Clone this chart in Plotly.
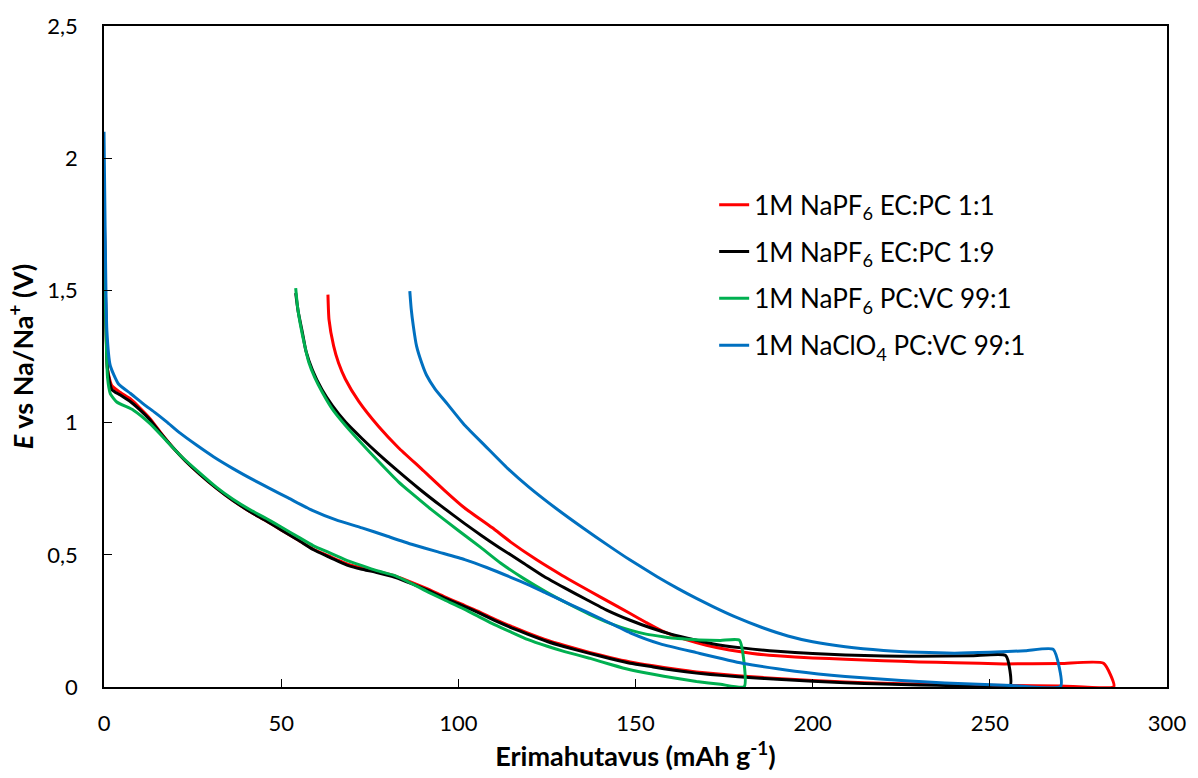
import plotly.graph_objects as go

# Galvanostatic sodiation / desodiation curves: capacity (mAh/g) vs potential (V).
# Every cell is drawn as one path: discharge branch (capacity rising to its end),
# then the charge branch running back to the left up to 1.5 V.

# 1M NaPF6 EC:PC 1:1
red_dis_x = [0, 0.4, 1.0, 2.2, 4.5, 7.4, 10, 13, 16, 19.5, 23, 27, 31.7, 36.4, 41, 45.7, 50,
             55, 59, 63.4, 66, 69, 72.5, 77, 82.1, 87, 91.5, 96, 100.8, 105.5, 110.2, 115,
             119.5, 125.1, 130, 137, 143, 148.5, 155, 161, 167.2, 175, 183, 190, 200, 209.2,
             220, 230, 240, 255, 270, 285]
red_dis_y = [1.88, 1.5, 1.2, 1.14, 1.115, 1.09, 1.057, 1.015, 0.962, 0.905, 0.855, 0.805,
             0.752, 0.705, 0.665, 0.629, 0.594, 0.554, 0.522, 0.496, 0.48, 0.464, 0.451, 0.438,
             0.42, 0.395, 0.37, 0.342, 0.314, 0.287, 0.257, 0.229, 0.205, 0.177, 0.157, 0.131,
             0.111, 0.095, 0.08, 0.068, 0.057, 0.047, 0.039, 0.032, 0.025, 0.019, 0.014,
             0.011, 0.008, 0.006, 0.004, 0.002]
red_chg_x = [282.1, 270, 254.1, 240, 230, 220, 209.2, 200, 190, 183, 176.5, 170, 164, 157.8,
             153, 148.5, 140, 134, 129.3, 122, 114.8, 109.5, 101.8, 96, 89.6, 83.1, 77.5,
             71.9, 68.1, 66.2, 64.8, 63.5, 63.2]
red_chg_y = [0.09, 0.089, 0.0874, 0.092, 0.095, 0.099, 0.105, 0.11, 0.118, 0.127, 0.14,
             0.158, 0.18, 0.21, 0.244, 0.278, 0.341, 0.386, 0.422, 0.482, 0.548, 0.603, 0.677,
             0.745, 0.825, 0.905, 0.985, 1.08, 1.165, 1.225, 1.29, 1.39, 1.484]

# 1M NaPF6 EC:PC 1:9
blk_dis_x = [0, 0.4, 1.0, 2.2, 4.5, 7.4, 10, 13, 16, 19.5, 23, 27, 31.7, 36.4, 41, 45.7, 50,
             55, 59, 63.4, 66, 69, 72.5, 77, 82.1, 87, 91.5, 96, 100.8, 105.5, 110.2, 115,
             119.5, 125.1, 130, 137, 143, 148.5, 155, 161, 167.2, 175, 183, 190, 200, 209.2,
             220, 230, 240, 255.7]
blk_dis_y = [1.85, 1.5, 1.2, 1.125, 1.105, 1.08, 1.05, 1.01, 0.96, 0.905, 0.855, 0.805, 0.752,
             0.705, 0.665, 0.629, 0.594, 0.554, 0.52, 0.492, 0.476, 0.459, 0.446, 0.433, 0.415,
             0.39, 0.365, 0.337, 0.31, 0.282, 0.252, 0.224, 0.2, 0.172, 0.152, 0.127,
             0.107, 0.09, 0.076, 0.063, 0.0525, 0.043, 0.035, 0.029, 0.022, 0.016, 0.011,
             0.008, 0.005, 0.003]
blk_chg_x = [254.5, 245, 230, 220, 209.2, 200, 190, 180, 172, 167.2, 160, 154, 148.5, 142,
             136, 130, 124.2, 118, 111.5, 106.4, 101.8, 95.2, 89, 82.5, 77.5, 72.8, 68.1,
             64.4, 61.5, 58.8, 57, 56, 54.8, 54.1]
blk_chg_y = [0.119, 0.118, 0.116, 0.117, 0.121, 0.127, 0.135, 0.148, 0.163, 0.177, 0.2,
             0.225, 0.2525, 0.29, 0.332, 0.375, 0.418, 0.472, 0.528, 0.574, 0.618, 0.684,
             0.749, 0.822, 0.881, 0.94, 1.003, 1.065, 1.125, 1.20, 1.27, 1.34, 1.42, 1.49]

# 1M NaPF6 PC:VC 99:1
grn_dis_x = [0, 0.4, 1.0, 1.8, 3.6, 8.3, 13, 17.7, 22, 27, 31.7, 36.4, 41, 45.7, 50, 55, 59,
             63.4, 68, 72.8, 77, 82.1, 87, 91.5, 96, 100.8, 105.5, 110.2, 115, 119.5, 125.1,
             130, 137, 143, 148.5, 155, 161, 167.2, 174, 180.7]
grn_dis_y = [1.8, 1.45, 1.17, 1.109, 1.078, 1.047, 0.996, 0.93, 0.87, 0.81, 0.756, 0.71,
             0.672, 0.638, 0.605, 0.566, 0.535, 0.509, 0.482, 0.459, 0.44, 0.421, 0.39, 0.359,
             0.33, 0.3, 0.268, 0.236, 0.207, 0.18, 0.154, 0.134, 0.109, 0.085, 0.065,
             0.048, 0.034, 0.021, 0.01, 0.002]
grn_chg_x = [179.3, 174, 168, 162, 157.8, 153, 148.5, 143, 137, 131, 125.1, 118.6, 112,
             106.4, 100, 92.4, 86.8, 83.1, 77.5, 72.8, 68.1, 64.5, 61.6, 59.5, 57.8, 56.5,
             55.5, 54.6, 54.1]
grn_chg_y = [0.177, 0.176, 0.178, 0.183, 0.19, 0.20, 0.215, 0.24, 0.275, 0.315, 0.357,
             0.409, 0.468, 0.527, 0.592, 0.671, 0.733, 0.776, 0.853, 0.92, 0.99, 1.05, 1.115,
             1.17, 1.228, 1.30, 1.365, 1.44, 1.509]

# 1M NaClO4 PC:VC 99:1
blu_dis_x = [0, 0.3, 0.8, 1.77, 4.1, 7.5, 11.1, 14.5, 17.7, 21.5, 26.1, 31, 36.3, 41.5,
             46.6, 52, 58.8, 65.5, 72.8, 80, 86.8, 94, 101.8, 108, 114.8, 120, 125.1, 132,
             140, 148.5, 157, 167.2, 180.2, 195, 209.2, 225, 237.3, 256, 270]
blu_dis_y = [2.1, 1.75, 1.35, 1.215, 1.146, 1.11, 1.071, 1.037, 1.003, 0.96, 0.915, 0.87,
             0.827, 0.788, 0.752, 0.715, 0.668, 0.632, 0.602, 0.57, 0.54, 0.512, 0.482,
             0.452, 0.415, 0.385, 0.353, 0.31, 0.26, 0.205, 0.163, 0.13, 0.09, 0.06, 0.04,
             0.025, 0.015, 0.006, 0.003]
blu_chg_x = [267.9, 260, 250, 240, 230, 220, 209.2, 200, 193, 185.9, 178, 172, 167.2, 162,
             156, 148.5, 142.9, 135, 127.9, 120, 113.9, 107.5, 101.8, 97, 93.4, 91, 89.6,
             88.2, 87.3, 86.7, 86.3]
blu_chg_y = [0.1425, 0.137, 0.131, 0.128, 0.131, 0.138, 0.152, 0.171, 0.193, 0.224, 0.266,
             0.303, 0.335, 0.372, 0.418, 0.48, 0.53, 0.603, 0.672, 0.755, 0.827, 0.913, 0.99,
             1.069, 1.128, 1.18, 1.228, 1.29, 1.365, 1.43, 1.497]

series_names = [
    "1M NaPF<sub>6</sub> EC:PC 1:1",
    "1M NaPF<sub>6</sub> EC:PC 1:9",
    "1M NaPF<sub>6</sub> PC:VC 99:1",
    "1M NaClO<sub>4</sub> PC:VC 99:1",
]
series_colors = ["#FF0000", "#000000", "#00B050", "#0070C0"]

x_ticks = [0, 50, 100, 150, 200, 250, 300]
y_ticks = [0, 0.5, 1, 1.5, 2, 2.5]
y_tick_text = ["0", "0,5", "1", "1,5", "2", "2,5"]

curves = [
    (red_dis_x + red_chg_x, red_dis_y + red_chg_y),
    (blk_dis_x + blk_chg_x, blk_dis_y + blk_chg_y),
    (grn_dis_x + grn_chg_x, grn_dis_y + grn_chg_y),
    (blu_dis_x + blu_chg_x, blu_dis_y + blu_chg_y),
]

FONT = "Lato, 'Open Sans', sans-serif"

fig = go.Figure()
for i, ((xs, ys), name, col) in enumerate(zip(curves, series_names, series_colors)):
    fig.add_trace(go.Scatter(
        x=xs, y=ys, mode="lines", name=name, legendgroup=f"g{i}",
        line=dict(color=col, width=3, shape="spline", smoothing=0.5),
    ))

fig.update_layout(
    width=1198, height=778,
    margin=dict(l=104, r=24, t=21, b=91),
    paper_bgcolor="white", plot_bgcolor="white",
    font=dict(family=FONT, size=22, color="black"),
    separators=", ",
    showlegend=True,
    legend=dict(
        x=0.574, y=0.765, xanchor="left", yanchor="top",
        bgcolor="rgba(0,0,0,0)", font=dict(size=26),
        tracegroupgap=10, itemwidth=30,
    ),
)

fig.update_xaxes(
    range=[0, 300], tickvals=x_ticks,
    showline=True, linecolor="black", linewidth=1.5, mirror=True,
    ticks="inside", ticklen=8, tickcolor="black",
    showgrid=False, zeroline=False,
    ticklabelstandoff=16,
    title=dict(text="<b>Erimahutavus (mAh g<sup>-1</sup>)</b>", font=dict(size=27), standoff=10),
)
fig.update_yaxes(
    range=[0, 2.5], tickvals=y_ticks, ticktext=y_tick_text,
    showline=True, linecolor="black", linewidth=1.5, mirror=True,
    ticks="inside", ticklen=8, tickcolor="black",
    showgrid=False, zeroline=False,
    ticklabelstandoff=20,
    title=dict(text="<b><i>E</i> vs Na/Na<sup>+</sup> (V)</b>", font=dict(size=27), standoff=6),
)

fig.write_html("out.html")
